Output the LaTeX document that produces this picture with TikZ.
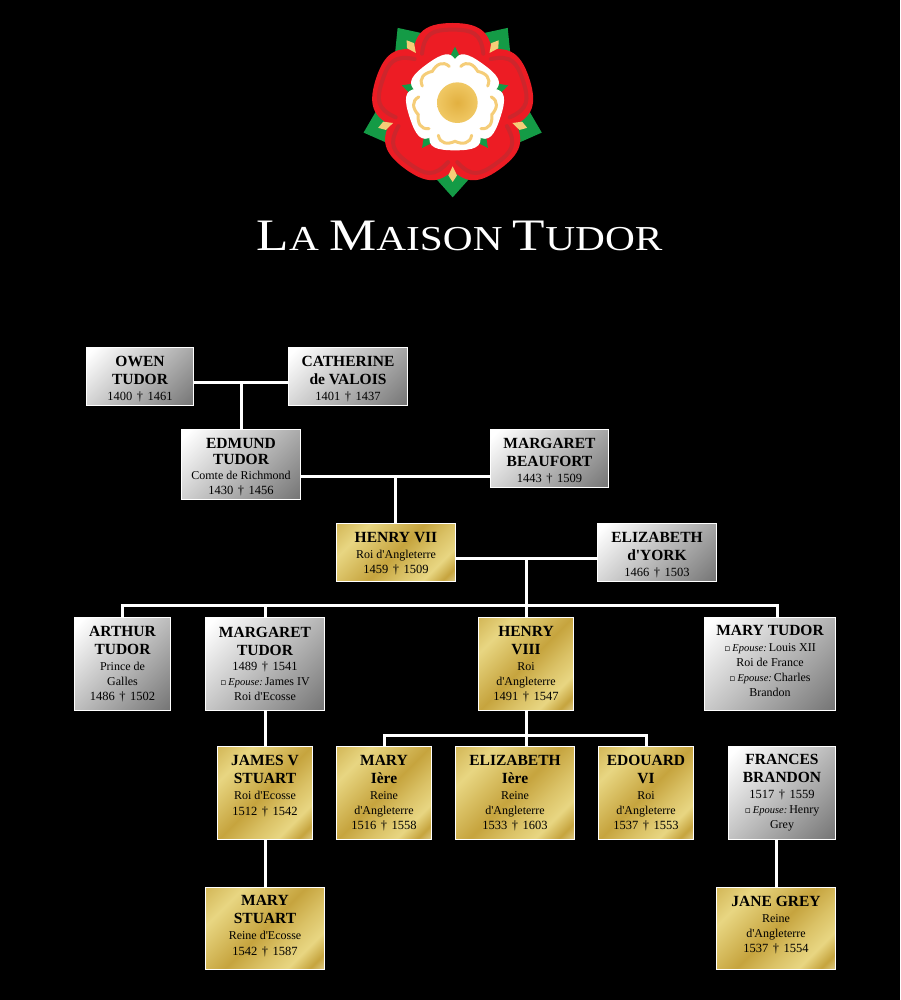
\documentclass[tikz,border=0pt]{standalone}
\usepackage{fontspec}
\setmainfont{Liberation Serif}[Ligatures=TeXOff]
\newfontfamily\symfont{DejaVu Sans}
\newfontfamily\titlefont{Liberation Serif}[FakeStretch=1.18]
\usetikzlibrary{positioning}

\pgfdeclarehorizontalshading{silverfoil}{100bp}{color(0bp)=(white); color(18bp)=(white); color(86bp)=(black!55); color(100bp)=(black!55)}
\definecolor{golddark}{RGB}{198,164,62}
\definecolor{goldlight}{RGB}{232,214,130}
\definecolor{goldpale}{RGB}{230,218,165}
\pgfdeclarehorizontalshading{goldfoil}{100bp}{color(0bp)=(golddark!60!goldlight); color(15bp)=(golddark!60!goldlight); color(28bp)=(goldlight); color(50bp)=(golddark); color(62bp)=(goldlight!60!golddark); color(72bp)=(goldlight); color(80bp)=(golddark); color(88bp)=(goldpale); color(100bp)=(goldpale)}

\definecolor{rosered}{RGB}{237,28,36}
\definecolor{rosedark}{RGB}{205,38,44}
\definecolor{rosegreen}{RGB}{20,155,70}
\definecolor{roseyellow}{RGB}{245,205,120}
\definecolor{rosegold}{RGB}{226,176,64}
\definecolor{rosegoldrim}{RGB}{240,200,100}

\tikzset{
  familybox/.style={draw=white,line width=1pt,inner sep=0pt,outer sep=0pt,align=center,text=black,
    font=\fontsize{12}{15}\selectfont},
  silverbox/.style={familybox,shading=silverfoil,shading angle=-45},
  goldbox/.style={familybox,shading=goldfoil,shading angle=-45},
  wire/.style={draw=white,line width=3pt}
}
\newcommand{\nom}[1]{{\fontsize{15.5}{15}\bfseries\selectfont #1}}
\newcommand{\life}[2]{{\fontsize{12.5}{15}\selectfont #1\hspace{4.5pt}†\hspace{4.5pt}#2}}
\newcommand{\spouse}{{\symfont\fontsize{9}{9}\selectfont ▫}\,{\itshape\fontsize{10.5}{10}\selectfont Epouse:}\,}
% taller first line or deeper last line, to move a text down or up in its box
\newcommand{\sink}[1]{\rule{0pt}{#1}}
\newcommand{\lift}[1]{\rule[-#1]{0pt}{#1}}

\begin{document}
\begin{tikzpicture}[x=1pt,y=-1pt]
    \useasboundingbox[fill=black] (0,0) rectangle (900,1000);

    % tudor rose, in 3x crop coordinates
    \begin{scope}[shift={(340,10)},scale=1/3]
        \begin{scope}[shift={(338,281)}]
            % outer sepals
            \foreach \a in {36,108,180,252,324}
                \fill[rosegreen,rotate=\a] (0,-281) -- (50,-225) -- (0,-170) -- (-50,-225) -- cycle;
            % red petals
            \foreach \a in {0,72,144,216,288}
                \fill[rosered,rotate=\a] (-122,-130) .. controls (-116,-205) and (-95,-242) .. (0,-242)
                    .. controls (95,-242) and (116,-205) .. (122,-130) -- (0,0) -- cycle;
            \foreach \a in {36,108,180,252,324}
                \fill[roseyellow,rotate=\a] (0,-188) -- (13,-215) -- (0,-235) -- (-13,-215) -- cycle;
            % dark lines on the red petals
            \foreach \a in {0,72,144,216,288}
                \draw[rosedark,line width=4pt,line cap=round,rotate=\a] (-92,-150) .. controls (-85,-212) and (-60,-222) .. (0,-222)
                    .. controls (60,-222) and (85,-212) .. (92,-150);
        \end{scope}
        \begin{scope}[shift={(345,278)}]
            % inner sepals
            \foreach \a in {0,72,144,216,288} {
                \fill[rosegreen,rotate=\a] (0,-168) -- (-27,-115) -- (27,-115) -- cycle;
                \fill[roseyellow,rotate=\a] (0,-132) -- (-6,-115) -- (6,-115) -- cycle;
            }
            % white flower
            \foreach \a in {36,108,180,252,324} {
                \fill[white,rotate=\a] (-75,-95) .. controls (-85,-135) and (-55,-143) .. (0,-143)
                    .. controls (55,-143) and (85,-135) .. (75,-95) -- (0,0) -- cycle;
                \draw[roseyellow,line width=3pt,line cap=round,rotate=\a] (-50,-98) .. controls (-45,-124) and (-22,-126) .. (0,-116)
                    .. controls (22,-126) and (45,-124) .. (50,-98);
            }
        \end{scope}
        \shade[inner color=rosegold,outer color=rosegoldrim] (352,278) circle (61);
    \end{scope}

    \node[text=white,font=\titlefont\fontsize{35}{35}\selectfont] (title) at (459.5,236)
        {{\fontsize{45}{45}\selectfont L}A {\fontsize{45}{45}\selectfont M}AISON {\fontsize{45}{45}\selectfont T}UDOR};

    % first generations
    \node[silverbox,minimum width=107pt,minimum height=58pt] (owen) at (140,376.5)
        {\sink{15pt}\nom{OWEN}\\[3pt]\nom{TUDOR}\\[1pt]\life{1400}{1461}};
    \node[silverbox,minimum width=119pt,minimum height=58pt] (catherine) at (348,376.5)
        {\sink{15pt}\nom{CATHERINE}\\[3pt]\nom{de VALOIS}\\[1pt]\life{1401}{1437}};
    \node[silverbox,minimum width=119pt,minimum height=70pt] (edmund) at (241,464.5)
        {\sink{15pt}\nom{EDMUND}\\[1pt]\nom{TUDOR}\\Comte de Richmond\\\life{1430}{1456}};
    \node[silverbox,minimum width=118pt,minimum height=58pt] (beaufort) at (549.5,458.5)
        {\sink{15pt}\nom{MARGARET}\\[3pt]\nom{BEAUFORT}\\[1pt]\life{1443}{1509}};
    \node[goldbox,minimum width=119pt,minimum height=58pt] (henryseven) at (396,552.5)
        {\sink{12.5pt}\nom{HENRY VII}\\[1pt]Roi d'Angleterre\\\life{1459}{1509}};
    \node[silverbox,minimum width=119pt,minimum height=58pt] (elizabeth) at (657,552.5)
        {\sink{15pt}\nom{ELIZABETH}\\[3pt]\nom{d'YORK}\\[1pt]\life{1466}{1503}};

    % children of henry vii
    \node[silverbox,minimum width=96pt,minimum height=93pt] (arthur) at (122.5,664)
        {\nom{ARTHUR}\\[3pt]\nom{TUDOR}\\[1pt]Prince de\\Galles\\\life{1486}{1502}};
    \node[silverbox,minimum width=119pt,minimum height=93pt] (margaret) at (265,664)
        {\nom{MARGARET}\\[3pt]\nom{TUDOR}\\\life{1489}{1541}\\\spouse James IV\\Roi d'Ecosse};
    \node[goldbox,minimum width=95pt,minimum height=93pt] (henryeight) at (526,664)
        {\nom{HENRY}\\[3pt]\nom{VIII}\\[1pt]Roi\\d'Angleterre\\\life{1491}{1547}};
    \node[silverbox,minimum width=131pt,minimum height=93pt] (marytudor) at (770,664)
        {\nom{MARY TUDOR}\\[1pt]\spouse Louis XII\\Roi de France\\\spouse Charles\\Brandon\lift{7pt}};

    % next generation
    \node[goldbox,minimum width=95pt,minimum height=93pt] (james) at (265,793)
        {\sink{14.5pt}\nom{JAMES V}\\[3pt]\nom{STUART}\\[1pt]Roi d'Ecosse\\[1pt]\life{1512}{1542}\\\strut};
    \node[goldbox,minimum width=95pt,minimum height=93pt] (maryfirst) at (384,793)
        {\nom{MARY}\\[3pt]\nom{Ière}\\[1pt]Reine\\d'Angleterre\\\life{1516}{1558}};
    \node[goldbox,minimum width=119pt,minimum height=93pt] (elizabethfirst) at (515,793)
        {\nom{ELIZABETH}\\[3pt]\nom{Ière}\\[1pt]Reine\\d'Angleterre\\\life{1533}{1603}};
    \node[goldbox,minimum width=95pt,minimum height=93pt] (edouard) at (646,793)
        {\nom{EDOUARD}\\[3pt]\nom{VI}\\[1pt]Roi\\d'Angleterre\\\life{1537}{1553}};
    \node[silverbox,minimum width=107pt,minimum height=93pt] (frances) at (782,793)
        {\nom{FRANCES}\\[3pt]\nom{BRANDON}\\[1pt]\life{1517}{1559}\\\spouse Henry\\Grey};
    \node[goldbox,minimum width=119pt,minimum height=82pt] (marystuart) at (265,928.5)
        {\nom{MARY}\\[3pt]\nom{STUART}\\[1pt]Reine d'Ecosse\\[1pt]\life{1542}{1587}\lift{6pt}};
    \node[goldbox,minimum width=119pt,minimum height=82pt] (jane) at (776,928.5)
        {\nom{JANE GREY}\\[1pt]Reine\\d'Angleterre\\\life{1537}{1554}\lift{8pt}};

    % knots on the connecting lines
    \coordinate (owenknot) at (241,382);
    \coordinate (edmundknot) at (395,476);
    \coordinate (henryknot) at (526,558);
    \coordinate (kidsknot) at (526,605);
    \coordinate (royalknot) at (526,735);

    \draw[wire] (owenknot -| owen.east) -- (owenknot -| catherine.west);
    \draw[wire] (owenknot) -- (owenknot |- edmund.north);
    \draw[wire] (edmundknot -| edmund.east) -- (edmundknot -| beaufort.west);
    \draw[wire] (edmundknot) -- (edmundknot |- henryseven.north);
    \draw[wire] (henryknot -| henryseven.east) -- (henryknot -| elizabeth.west);
    \draw[wire] (henryknot) -- (henryeight.north);
    \draw[wire] (arthur.north) |- (kidsknot) -| ([xshift=7pt]marytudor.north);
    \draw[wire] (margaret.north) -- (margaret.north |- kidsknot);
    \draw[wire] (margaret.south) -- (james.north);
    \draw[wire] (james.south) -- (marystuart.north);
    \draw[wire] (henryeight.south) -- (royalknot |- elizabethfirst.north);
    \draw[wire] (maryfirst.north) |- (royalknot) -| (edouard.north);
    \draw[wire] (jane.north) -- (jane.north |- frances.south);
\end{tikzpicture}
\end{document}
